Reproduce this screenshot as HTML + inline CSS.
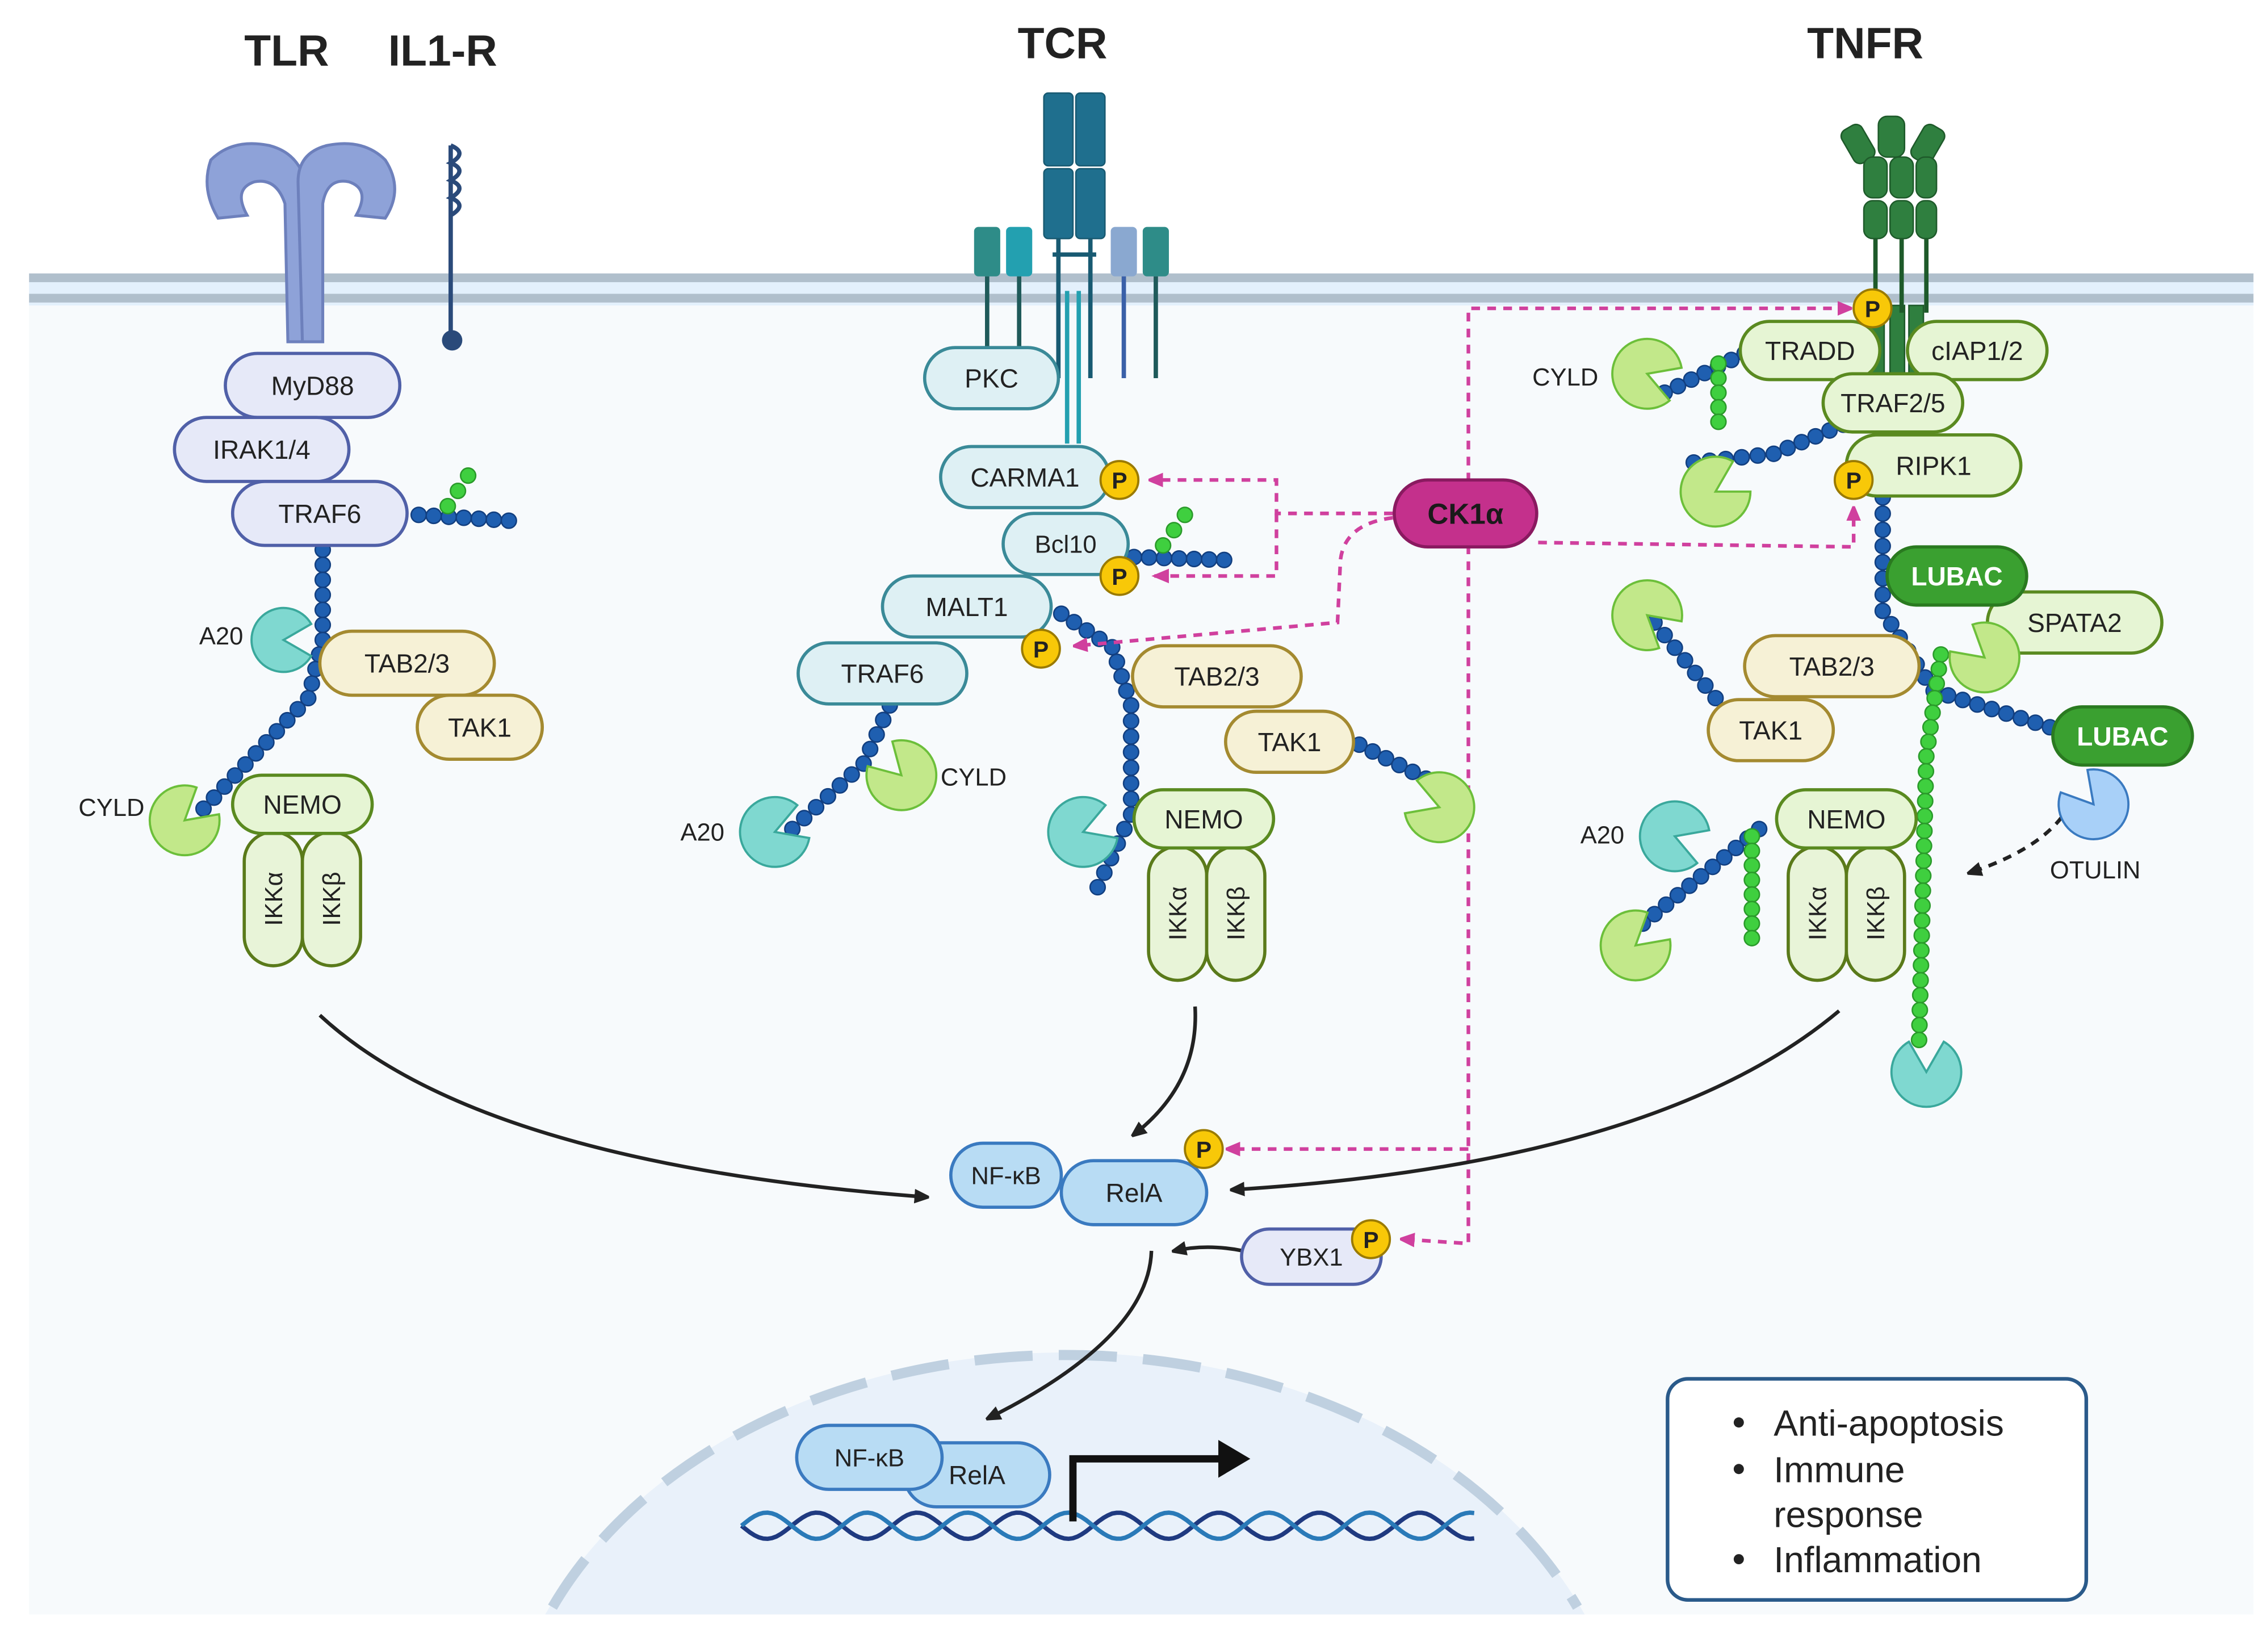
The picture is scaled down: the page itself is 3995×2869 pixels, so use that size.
<!DOCTYPE html>
<html><head><meta charset="utf-8"><style>
html,body{margin:0;padding:0;background:#fff}
svg{display:block}
text{font-family:"Liberation Sans",sans-serif;fill:#222}
</style></head><body>
<svg id="s" width="3995" height="2869" viewBox="0 0 1560 1120" preserveAspectRatio="none" xmlns="http://www.w3.org/2000/svg">
<defs>
<marker id="ab" markerWidth="10" markerHeight="10" refX="8" refY="5" orient="auto" markerUnits="userSpaceOnUse"><path d="M0,0 L12,5 L0,10 z" fill="#222"/></marker>
<marker id="ap" markerWidth="10" markerHeight="10" refX="8" refY="5" orient="auto" markerUnits="userSpaceOnUse"><path d="M0,0 L12,5 L0,10 z" fill="#d0409e"/></marker>
</defs>
<rect width="1560" height="1120" fill="#fff"/>
<rect x="20" y="200" width="1530" height="910" fill="#f7fafc"/>
<!-- nucleus -->
<path d="M375,1110 A390,300 0 0 1 1090,1110 Z" fill="#e9f1fa"/>
<path d="M380,1105 A385,290 0 0 1 1085,1105" fill="none" stroke="#bfd0e0" stroke-width="7" stroke-dasharray="40,18"/>
<!-- membrane -->
<rect x="20" y="188" width="1530" height="22" fill="#e3f0fc"/>
<rect x="20" y="188" width="1530" height="6" fill="#b0bfcc"/>
<rect x="20" y="202" width="1530" height="6" fill="#b0bfcc"/>
<!-- titles -->
<g font-weight="bold" font-size="30">
<text x="168" y="45">TLR</text><text x="267" y="45">IL1-R</text>
<text x="700" y="40">TCR</text><text x="1243" y="40">TNFR</text></g>
<!-- TLR receptor -->
<g fill="#8ea2d8" stroke="#6d80bc" stroke-width="2">
<path d="M145,110 Q160,95 185,100 Q205,105 210,125 L212,235 L198,235 L196,140 Q190,122 175,125 Q160,130 170,148 L150,150 Q138,130 145,110Z"/>
<path d="M265,110 Q250,95 225,100 Q205,105 205,125 L208,235 L222,235 L222,140 Q225,122 240,125 Q255,130 245,148 L265,150 Q278,130 265,110Z"/>
</g>
<path d="M310,100 L310,235" stroke="#2a4a7a" stroke-width="3"/>
<path d="M310,100 q12,5 0,12 q12,5 0,12 q12,5 0,12 q12,5 0,12" fill="none" stroke="#2a4a7a" stroke-width="3"/>
<circle cx="311" cy="234" r="7" fill="#2a4a7a"/>
<!-- TCR receptor -->
<g fill="#1f6f8e" stroke="#185a72">
<rect x="718" y="64" width="20" height="50" rx="3"/><rect x="740" y="64" width="20" height="50" rx="3"/>
<rect x="718" y="116" width="20" height="48" rx="3"/><rect x="740" y="116" width="20" height="48" rx="3"/></g>
<g stroke="#185a72" stroke-width="3"><line x1="728" y1="164" x2="728" y2="260"/><line x1="750" y1="164" x2="750" y2="260"/><line x1="724" y1="175" x2="754" y2="175"/></g>
<g stroke="#23a0b0" stroke-width="3"><line x1="734" y1="200" x2="734" y2="305"/><line x1="742" y1="200" x2="742" y2="305"/></g>
<rect x="670" y="156" width="18" height="34" rx="3" fill="#2e8c88"/><rect x="692" y="156" width="18" height="34" rx="3" fill="#23a0b0"/>
<rect x="764" y="156" width="18" height="34" rx="3" fill="#8aa8d0"/><rect x="786" y="156" width="18" height="34" rx="3" fill="#2e8c88"/>
<g stroke-width="3"><line x1="679" y1="190" x2="679" y2="240" stroke="#1f5a5a"/><line x1="701" y1="190" x2="701" y2="240" stroke="#1f5a5a"/><line x1="773" y1="190" x2="773" y2="260" stroke="#3a60a8"/><line x1="795" y1="190" x2="795" y2="260" stroke="#1f5a5a"/></g>
<!-- TNFR receptor -->
<g fill="#2f7f3f" stroke="#1e5a2a">
<rect x="1292" y="80" width="18" height="28" rx="6"/><rect x="1270" y="86" width="16" height="26" rx="5" transform="rotate(-30 1278 99)"/><rect x="1318" y="86" width="16" height="26" rx="5" transform="rotate(30 1326 99)"/>
<rect x="1282" y="108" width="16" height="28" rx="6"/><rect x="1300" y="108" width="16" height="28" rx="6"/><rect x="1318" y="108" width="14" height="28" rx="6"/>
<rect x="1282" y="138" width="16" height="26" rx="6"/><rect x="1300" y="138" width="16" height="26" rx="6"/><rect x="1318" y="138" width="14" height="26" rx="6"/>
<rect x="1286" y="210" width="10" height="50"/><rect x="1300" y="210" width="10" height="50"/><rect x="1313" y="210" width="10" height="50"/></g>
<g stroke="#1e5a2a" stroke-width="3"><line x1="1290" y1="164" x2="1290" y2="215"/><line x1="1308" y1="164" x2="1308" y2="215"/><line x1="1325" y1="164" x2="1325" y2="215"/></g>

<g id="chains"></g>

<!-- pink dashed -->
<g fill="none" stroke="#d0409e" stroke-width="2.5" stroke-dasharray="6,5">
<path d="M958,353 L878,353 L878,330 L792,330" marker-end="url(#ap)"/>
<path d="M878,353 L878,396 L792,396" />
<path d="M958,356 Q925,360 922,385 L920,428 L740,444" marker-end="url(#ap)"/>
<path d="M1058,373 L1275,376 L1275,350" marker-end="url(#ap)"/>
<path d="M1010,375 L1010,212 L1272,212" marker-end="url(#ap)"/>
<path d="M1010,375 L1010,855 L965,852" marker-end="url(#ap)"/>
<path d="M1010,790 L845,790" marker-end="url(#ap)"/>
</g>
<path d="M792,396 l12,-5 v10z" fill="#d0409e"/>

<!-- black arrows -->
<g fill="none" stroke="#222" stroke-width="2.5">
<path d="M220,698 Q330,800 637,823" marker-end="url(#ab)"/>
<path d="M822,692 Q825,745 780,780" marker-end="url(#ab)"/>
<path d="M1265,695 Q1140,800 848,818" marker-end="url(#ab)"/>
<path d="M855,860 Q830,855 808,860" marker-end="url(#ab)"/>
<path d="M792,860 Q790,920 680,975" marker-end="url(#ab)"/>
<path d="M1418,562 Q1400,585 1355,600" stroke-dasharray="6,5" marker-end="url(#ab)"/>
</g>

<g id="nodes"></g>

<!-- DNA -->
<g fill="none" stroke-width="3">
<path id="h1" stroke="#1f3a80"/><path id="h2" stroke="#2a7ab8"/></g>
<path d="M738,1046 L738,1003 L845,1003" fill="none" stroke="#111" stroke-width="5"/>
<path d="M838,990 L860,1003 L838,1016z" fill="#111"/>

<!-- legend -->
<rect x="1147" y="948" width="288" height="152" rx="14" fill="#fff" stroke="#2a5a8a" stroke-width="2.5"/>
<g font-size="25"><circle cx="1196" cy="978" r="3.5" fill="#222"/><text x="1220" y="987">Anti-apoptosis</text>
<circle cx="1196" cy="1010" r="3.5" fill="#222"/><text x="1220" y="1019">Immune</text><text x="1220" y="1050">response</text>
<circle cx="1196" cy="1072" r="3.5" fill="#222"/><text x="1220" y="1081">Inflammation</text></g>

<g font-size="17">
<text x="137" y="443">A20</text><text x="54" y="561">CYLD</text><text x="647" y="540">CYLD</text><text x="468" y="578">A20</text>
<text x="1054" y="265">CYLD</text><text x="1087" y="580">A20</text><text x="1410" y="604">OTULIN</text></g>
</svg>
<script>
const NS="http://www.w3.org/2000/svg";
function el(p,t,a,txt){const e=document.createElementNS(NS,t);for(const k in a)e.setAttribute(k,a[k]);if(txt!==undefined)e.textContent=txt;p.appendChild(e);return e;}
const C=document.getElementById('chains'),N=document.getElementById('nodes');
function chain(pts,col,r,step){col=col||'#1f5fb0';r=r||5.2;step=step||10.5;const st=col=='#1f5fb0'?'#123f80':'#2a9a2a';
 for(let i=0;i<pts.length-1;i++){const[a,b]=[pts[i],pts[i+1]];const d=Math.hypot(b[0]-a[0],b[1]-a[1]);const n=Math.max(1,Math.round(d/step));
 for(let j=(i?1:0);j<=n;j++)el(C,'circle',{cx:a[0]+(b[0]-a[0])*j/n,cy:a[1]+(b[1]-a[1])*j/n,r:r,fill:col,stroke:st,'stroke-width':1});}}
const G='#3fcf3f';
// TLR
chain([[222,378],[222,440],[212,480],[140,556]]);
chain([[288,354],[350,358]]);chain([[308,348],[322,327]],G);
// TCR
chain([[730,422],[765,445],[778,485],[778,560],[755,610]]);
chain([[780,383],[842,385]]);chain([[800,375],[815,354]],G);
chain([[612,485],[594,525],[545,570]]);
chain([[935,512],[990,540]]);
// TNFR
chain([[1200,243],[1145,270]]);chain([[1182,250],[1182,290]],G);
chain([[1268,292],[1220,312],[1165,318]]);
chain([[1295,342],[1295,420],[1330,475],[1410,500]]);
chain([[1138,428],[1180,480]]);
chain([[1335,450],[1325,520],[1320,715]],G);
chain([[1210,570],[1130,635]]);chain([[1205,575],[1205,645]],G);
function pill(cx,cy,w,h,f,s,t,fs,col,bold){el(N,'rect',{x:cx-w/2,y:cy-h/2,width:w,height:h,rx:h/2,fill:f,stroke:s,'stroke-width':2.2});
 const e=el(N,'text',{x:cx,y:cy+fs*0.36,'text-anchor':'middle','font-size':fs},t);if(col)e.style.fill=col;if(bold)e.setAttribute('font-weight','bold');}
function vpill(cx,cy,t){el(N,'rect',{x:cx-20,y:cy-46,width:40,height:92,rx:20,fill:'#e8f4d8',stroke:'#5a7a1a','stroke-width':2.2});
 el(N,'text',{x:cx+6,y:cy,'text-anchor':'middle','font-size':17,transform:`rotate(-90 ${cx} ${cy})`},t).setAttribute('x',cx);
 N.lastChild.setAttribute('y',cy+6);}
function pac(cx,cy,r,f,s,ang){const a1=(ang-30)*Math.PI/180,a2=(ang+30)*Math.PI/180;
 el(N,'path',{d:`M${cx},${cy} L${cx+r*Math.cos(a2)},${cy+r*Math.sin(a2)} A${r},${r} 0 1 1 ${cx+r*Math.cos(a1)},${cy+r*Math.sin(a1)} Z`,fill:f,stroke:s,'stroke-width':1.5});}
function P(x,y){el(N,'circle',{cx:x,cy:y,r:13,fill:'#f8c808',stroke:'#9a7a00','stroke-width':1.5});el(N,'text',{x:x,y:y+6,'text-anchor':'middle','font-size':16,'font-weight':'bold'},'P');}
const LB=['#e6e9f8','#5060a8'],Y=['#f6f1d6','#a48a30'],GN=['#e6f5d4','#5a8a20'],TC=['#def0f4','#3a8a98'],TE=['#7fd8d0','#3aa89c'],GC=['#c2e88a','#6cbf3a'];
// TLR
pill(215,265,120,44,...LB,'MyD88',18);pill(180,309,120,44,...LB,'IRAK1/4',18);pill(220,353,120,44,...LB,'TRAF6',18);
pac(195,440,22,...TE,0);pill(280,456,120,44,...Y,'TAB2/3',18);pill(330,500,86,44,...Y,'TAK1',18);
pac(127,564,24,...GC,-40);vpill(188,618,'IKKα');vpill(228,618,'IKKβ');pill(208,553,96,40,...GN,'NEMO',18);
// TCR
pill(682,260,92,42,...TC,'PKC',18);pill(705,328,116,42,...TC,'CARMA1',18);pill(733,374,86,42,...TC,'Bcl10',17);
pill(665,417,116,42,...TC,'MALT1',18);pill(607,463,116,42,...TC,'TRAF6',18);
pill(837,465,116,42,...Y,'TAB2/3',18);pill(887,510,88,42,...Y,'TAK1',18);
pac(620,533,24,...GC,-135);pac(533,572,24,...TE,-20);pac(745,572,24,...TE,-20);pac(990,555,24,...GC,-160);
vpill(810,628,'IKKα');vpill(850,628,'IKKβ');pill(828,563,96,40,...GN,'NEMO',18);
P(770,330);P(770,396);P(716,446);
pill(1008,353,98,46,'#c4308c','#8a1a60','CK1α',20,'#1a1a1a',true);
// TNFR
pill(1245,241,96,40,...GN,'TRADD',18);pill(1360,241,96,40,...GN,'cIAP1/2',18);pill(1302,277,96,40,...GN,'TRAF2/5',18);pill(1330,320,120,42,...GN,'RIPK1',18);
pac(1133,257,24,...GC,20);pac(1180,338,24,...GC,-30);
pill(1427,428,120,42,...GN,'SPATA2',18);pill(1346,396,96,40,'#3aa030','#2a7a20','LUBAC',18,'#fff',true);
pac(1365,452,24,...GC,-140);pac(1133,423,24,...GC,40);
pill(1260,458,120,42,...Y,'TAB2/3',18);pill(1218,502,86,42,...Y,'TAK1',18);
pill(1460,506,96,40,'#3aa030','#2a7a20','LUBAC',18,'#fff',true);
pac(1440,553,24,'#a8d0f8','#3a7ac0',-130);
vpill(1250,628,'IKKα');vpill(1290,628,'IKKβ');pill(1270,563,96,40,...GN,'NEMO',18);
pac(1152,575,24,...TE,20);pac(1125,650,24,...GC,-40);pac(1325,737,24,...TE,-90);
P(1288,212);P(1275,330);
// bottom
pill(780,820,100,44,'#b8dcf4','#3a7ac0','RelA',18);pill(692,808,76,44,'#b8dcf4','#3a7ac0','NF-κB',17);P(828,790);
pill(902,864,96,38,...LB,'YBX1',17);P(943,852);
pill(672,1014,100,44,'#b8dcf4','#3a7ac0','RelA',18);pill(598,1002,100,44,'#b8dcf4','#3a7ac0','NF-κB',17);
let d1='',d2='';for(let x=510;x<=1015;x+=3){const y1=1049+9*Math.sin((x-510)/11),y2=1049-9*Math.sin((x-510)/11);d1+=(x==510?'M':'L')+x+','+y1.toFixed(1);d2+=(x==510?'M':'L')+x+','+y2.toFixed(1);}
document.getElementById('h1').setAttribute('d',d1);document.getElementById('h2').setAttribute('d',d2);
</script>
</body></html>
